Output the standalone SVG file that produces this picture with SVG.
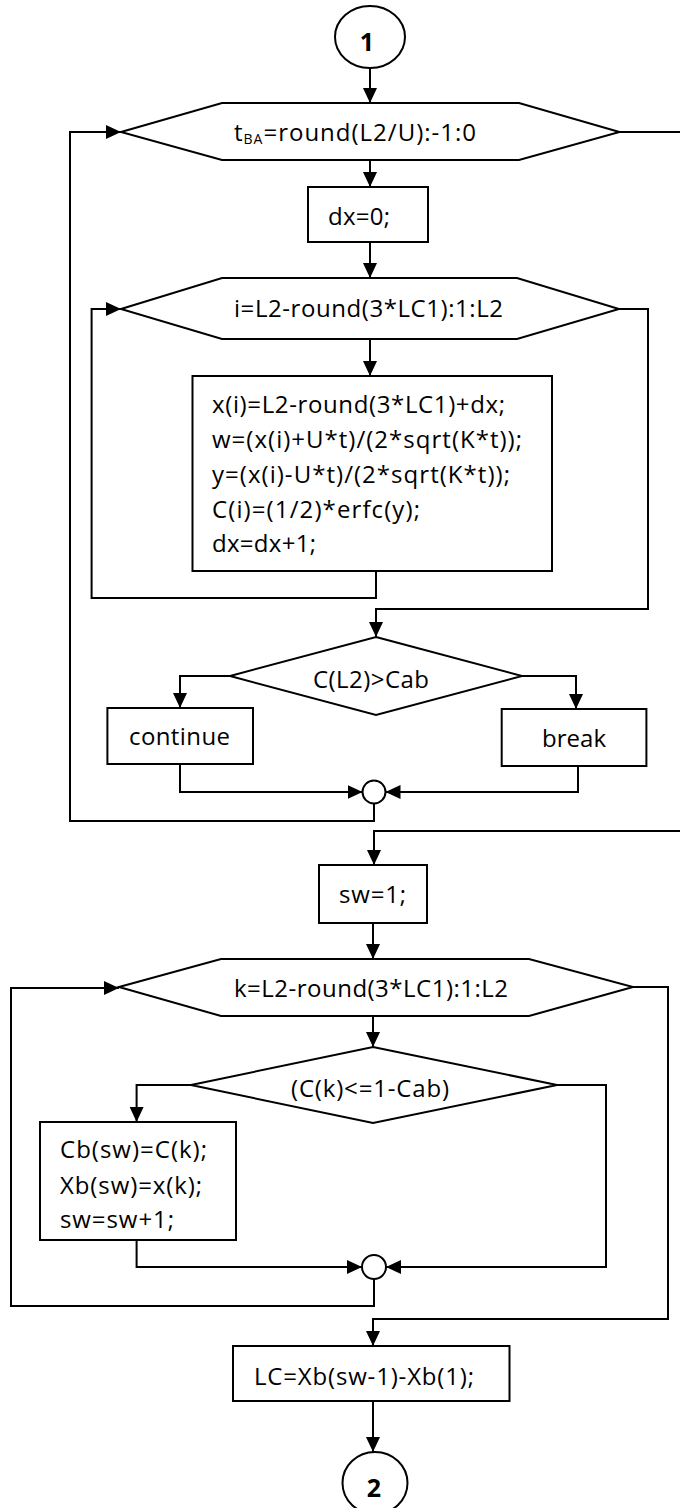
<svg xmlns="http://www.w3.org/2000/svg" width="680" height="1508" viewBox="0 0 680 1508">
<style>
.s{fill:#fff;stroke:#000;stroke-width:2}
.c{fill:none;stroke:#000;stroke-width:2}
.a{marker-end:url(#ah)}
text{font-family:"Open Sans","Liberation Sans",sans-serif;font-size:24px;fill:#000}
.b{font-weight:bold;font-size:25px}
</style>
<defs>
<marker id="ah" markerUnits="userSpaceOnUse" markerWidth="15" markerHeight="14" refX="15" refY="7" orient="auto">
<path d="M0,0 L15,7 L0,14 z" fill="#000"/>
</marker>
</defs>
<rect width="680" height="1508" fill="#fff"/>
<g id="connectors">
<path class="c a" d="M370,68 V103"/>
<path class="c a" d="M370,160 V187"/>
<path class="c a" d="M370,242 V278"/>
<path class="c a" d="M370,339 V376"/>
<path class="c a" d="M376,571 V598 H91.6 V309 H121"/>
<path class="c a" d="M619,309 H648 V609 H376 V637"/>
<path class="c a" d="M230,676 H180 V708"/>
<path class="c a" d="M522,676 H576 V709"/>
<path class="c a" d="M180,764 V792 H362.5"/>
<path class="c a" d="M578,766 V792 H385.5"/>
<path class="c a" d="M374,803 V821 H70 V132 H121"/>
<path class="c" d="M619.5,132 H680"/>
<path class="c a" d="M680,831 H374 V865"/>
<path class="c a" d="M373,923 V959"/>
<path class="c a" d="M373,1016 V1047"/>
<path class="c a" d="M191,1085 H136.6 V1122"/>
<path class="c a" d="M557,1085 H606 V1267 H386"/>
<path class="c a" d="M136.6,1240 V1267 H362"/>
<path class="c a" d="M374,1279 V1306 H11 V988 H119"/>
<path class="c a" d="M633,987 H668 V1319 H373 V1346"/>
<path class="c a" d="M373,1401 V1452"/>
</g>
<g id="start1">
<ellipse class="s" cx="370" cy="37" rx="35" ry="31"/>
<text class="b" x="367" y="51" text-anchor="middle">1</text>
</g>
<g id="loop-tba">
<polygon class="s" points="121,132 222,103 519,103 619.5,132 519,160 222,160"/>
<text x="234" y="141" textLength="242">t<tspan font-size="14" dy="2.5">BA</tspan><tspan dy="-2.5">=round(L2/U):-1:0</tspan></text>
</g>
<g id="dx0">
<rect class="s" x="308" y="187" width="120" height="55"/>
<text x="328" y="225" textLength="62">dx=0;</text>
</g>
<g id="loop-i">
<polygon class="s" points="121,309 222,278 517,278 619,309 517,339 222,339"/>
<text x="234" y="317" textLength="269">i=L2-round(3*LC1):1:L2</text>
</g>
<g id="calc">
<rect class="s" x="192.5" y="376" width="359.5" height="195"/>
<text x="212" y="413" textLength="293">x(i)=L2-round(3*LC1)+dx;</text>
<text x="212" y="448" textLength="310">w=(x(i)+U*t)/(2*sqrt(K*t));</text>
<text x="212" y="483" textLength="298">y=(x(i)-U*t)/(2*sqrt(K*t));</text>
<text x="212" y="518" textLength="208">C(i)=(1/2)*erfc(y);</text>
<text x="212" y="552" textLength="104">dx=dx+1;</text>
</g>
<g id="cond1">
<polygon class="s" points="376,637 522,676 376,715 230,676"/>
<text x="313" y="688" textLength="116">C(L2)&gt;Cab</text>
</g>
<g id="continue">
<rect class="s" x="107.4" y="708" width="145.6" height="56"/>
<text x="129" y="745" textLength="101">continue</text>
</g>
<g id="break">
<rect class="s" x="501.7" y="709" width="144.7" height="57"/>
<text x="542" y="747" textLength="64">break</text>
</g>
<g id="merge1">
<circle class="s" cx="374" cy="792" r="11.5"/>
</g>
<g id="sw1">
<rect class="s" x="319" y="865" width="108" height="58"/>
<text x="339" y="903" textLength="67">sw=1;</text>
</g>
<g id="loop-k">
<polygon class="s" points="119,987 221,959 529,959 633,987 529,1016 221,1016"/>
<text x="234" y="997" textLength="274">k=L2-round(3*LC1):1:L2</text>
</g>
<g id="cond2">
<polygon class="s" points="373,1047 557,1085 373,1123 191,1085"/>
<text x="291" y="1097" textLength="158">(C(k)&lt;=1-Cab)</text>
</g>
<g id="store">
<rect class="s" x="40" y="1122" width="196" height="118"/>
<text x="60" y="1158" textLength="147">Cb(sw)=C(k);</text>
<text x="60" y="1194" textLength="142">Xb(sw)=x(k);</text>
<text x="60" y="1228" textLength="114">sw=sw+1;</text>
</g>
<g id="merge2">
<circle class="s" cx="374" cy="1267" r="12"/>
</g>
<g id="lc">
<rect class="s" x="233" y="1346" width="276.5" height="55"/>
<text x="254" y="1385" textLength="220">LC=Xb(sw-1)-Xb(1);</text>
</g>
<g id="end2">
<ellipse class="s" cx="375" cy="1483" rx="32.5" ry="31"/>
<text class="b" x="374" y="1497" text-anchor="middle">2</text>
</g>
</svg>
